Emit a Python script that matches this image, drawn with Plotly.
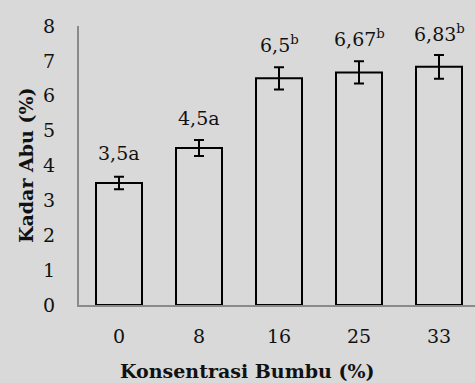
import plotly.graph_objects as go

# Ash content by seasoning concentration
konsentrasi = ["0", "8", "16", "25", "33"]
kadar_abu = [3.5, 4.5, 6.5, 6.67, 6.83]
galat = [0.18, 0.23, 0.32, 0.32, 0.34]
notasi = ["3,5a", "4,5a", "6,5<sup>b</sup>", "6,67<sup>b</sup>", "6,83<sup>b</sup>"]
y_ticks = [0, 1, 2, 3, 4, 5, 6, 7, 8]

FONT = "DejaVu Serif"
BG = "#d9d9d9"
AXIS_GREY = "#8a8a8a"

fig = go.Figure()
fig.add_trace(go.Bar(
    x=konsentrasi,
    y=kadar_abu,
    marker=dict(color="rgba(0,0,0,0)", line=dict(color="black", width=2)),
    error_y=dict(type="data", array=galat, visible=True,
                 color="black", thickness=2, width=5),
    showlegend=False,
))

# value labels with significance letters, placed above each bar top
for i, (v, t) in enumerate(zip(kadar_abu, notasi)):
    has_sup = "<sup>" in t
    fig.add_annotation(x=i, y=v, text=t, showarrow=False,
                       yanchor="middle", yshift=34 if has_sup else 30,
                       font=dict(family=FONT, size=19, color="#111"))

fig.add_annotation(xref="paper", yref="paper", x=(247 - 79) / 396, y=-0.235,
                   text="<b>Konsentrasi Bumbu (%)</b>", showarrow=False,
                   yanchor="middle", xanchor="center",
                   font=dict(family=FONT, size=19, color="#111"))
fig.add_annotation(xref="paper", yref="paper", x=-0.135, y=0.5,
                   text="<b>Kadar Abu (%)</b>", showarrow=False, textangle=-90,
                   xanchor="center", yanchor="middle",
                   font=dict(family=FONT, size=19, color="#111"))

fig.update_layout(
    width=475, height=383,
    margin=dict(l=79, r=0, t=26, b=78),
    paper_bgcolor=BG, plot_bgcolor=BG,
    bargap=0.425,
    font=dict(family=FONT, size=19, color="#111"),
    xaxis=dict(type="category", range=[-0.5, 4.45], showline=True,
               linecolor=AXIS_GREY, linewidth=2, showgrid=False,
               ticks="", ticklabelstandoff=13, zeroline=False),
    yaxis=dict(range=[0, 8], tickvals=y_ticks, showline=True,
               linecolor=AXIS_GREY, linewidth=2, showgrid=False,
               ticks="", ticklabelstandoff=18, zeroline=False),
)

fig.write_html("out.html")
